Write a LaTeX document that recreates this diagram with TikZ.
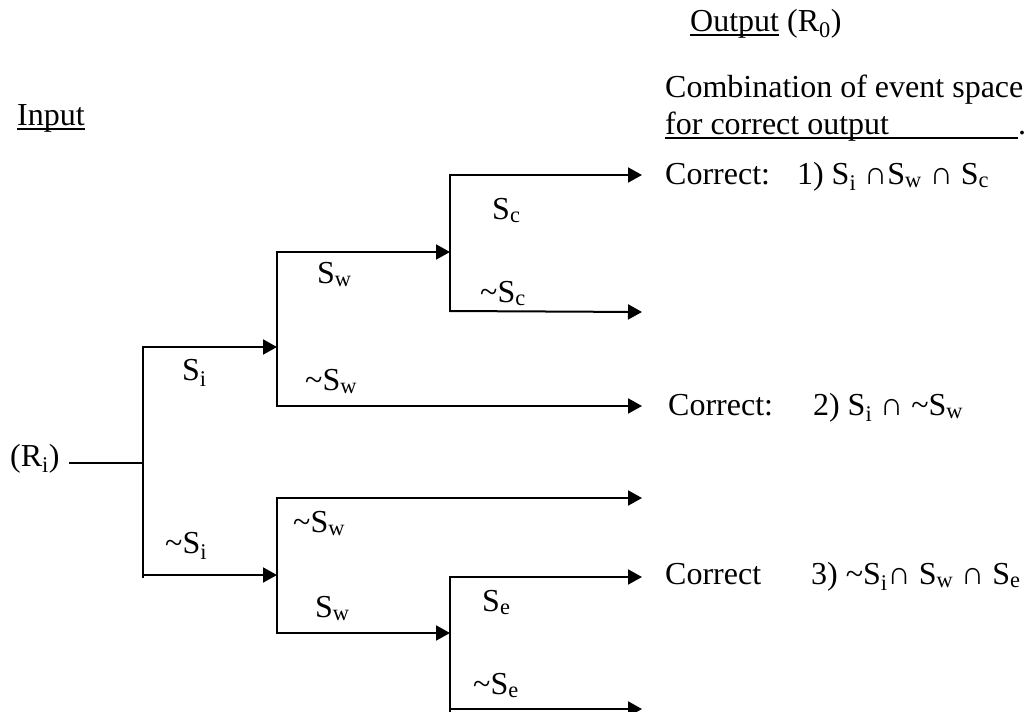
\documentclass[tikz,border=0pt]{standalone}
\usepackage{fontspec}
\setmainfont{Liberation Serif}
\usetikzlibrary{arrows.meta}
\newsavebox\ulbox
\newcommand\myul[1]{\sbox\ulbox{#1}\rlap{\rule[-5pt]{\wd\ulbox}{1.6pt}}\usebox\ulbox}
\newcommand\tild{\textasciitilde}
\newcommand\sbs[1]{\textsubscript{#1}}
\begin{document}
\begin{tikzpicture}[x=1pt,y=-1pt,
  txt/.style={inner sep=0pt, anchor=base west, font=\fontsize{32}{38}\selectfont},
  wire/.style={line width=2pt, line cap=rect},
  arr/.style={line width=2pt, -{Triangle[length=14pt,width=15pt]}}
]
\useasboundingbox (0,0) rectangle (1026,712);
\fill[white] (0,0) rectangle (1026,712);

% headings
\node[txt] (input) at (17,125) {\myul{Input}};
\node[txt] (output) at (690,31) {\myul{Output} (R\sbs{0})};
\node[txt] (comb) at (665,97) {Combination of event space};
\node[txt] (forc) at (665,134) {\myul{for correct output\hspace{129pt}}.};

% root
\node[txt] (Ri) at (10,466) {(R\sbs{i})};

% junction coordinates
\coordinate (j0) at (143,463);
\coordinate (a1) at (143,347);
\coordinate (a2) at (143,577);
\coordinate (b0) at (277,347);
\coordinate (c0) at (277,575);
\coordinate (b1) at (277,252);
\coordinate (b2) at (277,406);
\coordinate (d0) at (450,252);
\coordinate (d1) at (450,175);
\coordinate (d2) at (450,311);
\coordinate (c1) at (277,498);
\coordinate (c2) at (277,633);
\coordinate (e0) at (450,633);
\coordinate (e1) at (450,577);
\coordinate (e2) at (450,712);
\coordinate (o1) at (642,175);
\coordinate (o2) at (642,312);
\coordinate (o3) at (642,406);
\coordinate (o4) at (642,498);
\coordinate (o5) at (642,577);
\coordinate (o6) at (642,709);
\coordinate (e3) at (450,709);

% wires
\draw[wire] ([xshift=10pt]Ri.east |- j0) -- (j0);
\draw[wire] (a1) -- (a2);
\draw[arr] (a1) -- (b0);
\draw[arr] (c0 -| a1) -- (c0);
\draw[wire] (b1) -- (b2);
\draw[arr] (b1) -- (d0);
\draw[arr] (b2) -- (o3);
\draw[wire] (d1) -- (d2);
\draw[arr] (d1) -- (o1);
\draw[arr] (d2) -- (o2);
\draw[wire] (c1) -- (c2);
\draw[arr] (c1) -- (o4);
\draw[arr] (c2) -- (e0);
\draw[wire] (e1) -- (e2);
\draw[arr] (e1) -- (o5);
\draw[arr] (e3) -- (o6);

% branch labels
\node[txt] (lSi) at (182,380) {S\sbs{i}};
\node[txt] (lnSi) at (165,553) {\tild S\sbs{i}};
\node[txt] (lSw1) at (317,283) {S\sbs{w}};
\node[txt] (lnSw1) at (305,390) {\tild S\sbs{w}};
\node[txt] (lSc) at (492,219) {S\sbs{c}};
\node[txt] (lnSc) at (480,302) {\tild S\sbs{c}};
\node[txt] (lnSw2) at (293,532) {\tild S\sbs{w}};
\node[txt] (lSw2) at (315,617) {S\sbs{w}};
\node[txt] (lSe) at (482,611) {S\sbs{e}};
\node[txt] (lnSe) at (473,694) {\tild S\sbs{e}};

% outcomes
\node[txt] (r1) at (665,184) {Correct:\hspace{27pt}1) S\sbs{i} ∩S\sbs{w} ∩ S\sbs{c}};
\node[txt] (r2) at (668,415) {Correct:\hspace{40pt}2) S\sbs{i} ∩ \tild S\sbs{w}};
\node[txt] (r3) at (665,584) {Correct\hspace{50pt}3) \tild S\sbs{i}∩ S\sbs{w} ∩ S\sbs{e}};
\end{tikzpicture}
\end{document}
